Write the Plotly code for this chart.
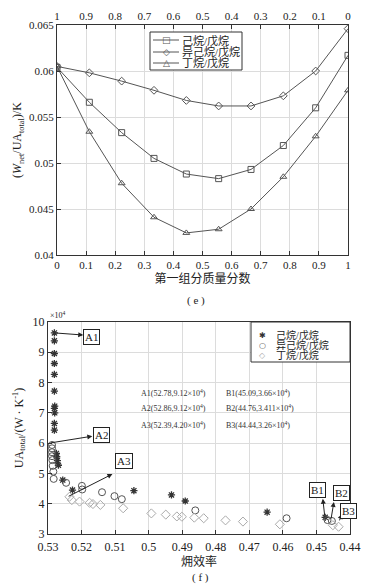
import plotly.graph_objects as go

# ---------- (e) data ----------
frac = [0, 1/9, 2/9, 3/9, 4/9, 5/9, 6/9, 7/9, 8/9, 1]
frac_top_ticks = [1, 0.9, 0.8, 0.7, 0.6, 0.5, 0.4, 0.3, 0.2, 0.1, 0]
hex_pent = [0.0604, 0.0566, 0.0533, 0.0505, 0.0488, 0.0483, 0.0493, 0.0519, 0.0560, 0.0617]
isohex_pent = [0.0605, 0.0598, 0.0589, 0.0579, 0.0568, 0.0562, 0.0562, 0.0573, 0.0600, 0.0646]
but_pent = [0.0605, 0.0534, 0.0478, 0.0441, 0.0424, 0.0428, 0.0450, 0.0485, 0.0529, 0.0579]

# ---------- (f) data (UA in 1e4 W/K) ----------
hex_eff = [0.5281, 0.5281, 0.5281, 0.5281, 0.5281, 0.5281, 0.5280, 0.5281, 0.5280, 0.5281, 0.5281,
           0.5275, 0.5274, 0.5272, 0.5269, 0.5256, 0.5227, 0.5044, 0.4932, 0.4891, 0.4647, 0.4474]
hex_ua = [9.64, 9.38, 8.96, 8.63, 8.27, 7.72, 7.22, 7.15, 7.00, 6.65, 6.43,
          5.66, 5.55, 5.42, 5.27, 4.78, 4.45, 4.43, 4.29, 4.09, 3.72, 3.55]
isohex_eff = [0.5288, 0.5288, 0.5288, 0.5288, 0.5287, 0.5286, 0.5284, 0.5283, 0.5246, 0.5199,
              0.5198, 0.5139, 0.5102, 0.5080, 0.4861, 0.4589, 0.4467, 0.4454]
isohex_ua = [5.94, 5.83, 5.70, 5.57, 5.44, 5.25, 5.06, 4.82, 4.69, 4.59,
             4.47, 4.38, 4.25, 4.15, 3.78, 3.52, 3.46, 3.43]
but_eff = [0.5236, 0.5229, 0.5206, 0.5176, 0.5166, 0.5144, 0.5076, 0.4992, 0.4949, 0.4916,
           0.4901, 0.4864, 0.4836, 0.4771, 0.4719, 0.4609, 0.4451, 0.4434]
but_ua = [4.23, 4.12, 4.07, 4.03, 3.99, 3.96, 3.85, 3.68, 3.64, 3.58,
          3.57, 3.54, 3.52, 3.45, 3.41, 3.32, 3.29, 3.24]
eff_ticks = [0.53, 0.52, 0.51, 0.50, 0.49, 0.48, 0.47, 0.46, 0.45, 0.44]
eff_tick_labels = ["0.53", "0.52", "0.51", "0.5", "0.49", "0.48", "0.47", "0.46", "0.45", "0.44"]

names = ["己烷/戊烷", "异己烷/戊烷", "丁烷/戊烷"]

# callouts: (label, head_x, head_y, tail_x, tail_y, box_x, box_y)
callouts = [
    ("A1", 0.5195, 9.57, 0.5281, 9.64, 0.5171, 9.50),
    ("A2", 0.5168, 6.23, 0.5297, 6.00, 0.5141, 6.27),
    ("A3", 0.5108, 4.98, 0.5243, 4.22, 0.5075, 5.41),
    ("B1", 0.4481, 4.16, 0.4475, 3.56, 0.4496, 4.45),
    ("B2", 0.4448, 4.06, 0.4457, 3.46, 0.4424, 4.35),
    ("B3", 0.4424, 3.66, 0.4433, 3.40, 0.4403, 3.76),
]
notes_left = ["A1(52.78,9.12×10<sup>4</sup>)", "A2(52.86,9.12×10<sup>4</sup>)", "A3(52.39,4.20×10<sup>4</sup>)"]
notes_right = ["B1(45.09,3.66×10<sup>4</sup>)", "B2(44.76,3.411×10<sup>4</sup>)", "B3(44.44,3.26×10<sup>4</sup>)"]
notes_y = [7.65, 7.16, 6.60]

SERIF = "Liberation Serif, Times New Roman, Noto Sans CJK SC, serif"
LINE = "#555555"
AX = "#333333"
GRID = "#dcdcdc"
W, H = 374, 587


def px(x):
    return x / W


def py(y):
    return 1 - y / H


fig = go.Figure()

sym = ["square-open", "diamond-open", "triangle-up-open"]
for nm, ys, s in zip(names, [hex_pent, isohex_pent, but_pent], sym):
    fig.add_trace(go.Scatter(x=frac, y=ys, mode="lines+markers", name=nm, showlegend=False,
                             line=dict(color=LINE, width=1),
                             marker=dict(symbol=s, size=6, color=LINE, line=dict(width=1, color=LINE)),
                             xaxis="x", yaxis="y"))
# dummy trace for top axis
fig.add_trace(go.Scatter(x=[1, 0], y=[None, None], mode="markers", showlegend=False,
                         xaxis="x2", yaxis="y", hoverinfo="skip"))

fig.add_trace(go.Scatter(x=hex_eff, y=hex_ua, mode="markers", name=names[0], showlegend=False,
                         marker=dict(symbol="asterisk-open", size=6, color="#333333",
                                     line=dict(width=1.3, color="#333333")),
                         xaxis="x3", yaxis="y3"))
fig.add_trace(go.Scatter(x=isohex_eff, y=isohex_ua, mode="markers", name=names[1], showlegend=False,
                         marker=dict(symbol="circle-open", size=7, color="#555555",
                                     line=dict(width=1, color="#555555")),
                         xaxis="x3", yaxis="y3"))
fig.add_trace(go.Scatter(x=but_eff, y=but_ua, mode="markers", name=names[2], showlegend=False,
                         marker=dict(symbol="diamond-open", size=7, color="#aaaaaa",
                                     line=dict(width=1, color="#aaaaaa")),
                         xaxis="x3", yaxis="y3"))

axis_common = dict(showline=True, linecolor=AX, linewidth=1, mirror=True, ticks="inside",
                   ticklen=4, tickcolor=AX, showgrid=True, gridcolor=GRID, gridwidth=1,
                   zeroline=False, automargin=False,
                   tickfont=dict(family=SERIF, size=11, color="#222"))

fig.update_layout(
    width=W, height=H, margin=dict(l=0, r=0, t=0, b=0),
    paper_bgcolor="white", plot_bgcolor="white",
    font=dict(family=SERIF, color="#222"),
    showlegend=False,
    xaxis=dict(axis_common, domain=[px(57), px(348)], anchor="y", range=[0, 1],
               tickvals=[i / 10 for i in range(11)],
               ticktext=["0", "0.1", "0.2", "0.3", "0.4", "0.5", "0.6", "0.7", "0.8", "0.9", "1"],
               title=dict(text="第一组分质量分数", font=dict(size=12, family=SERIF), standoff=4)),
    xaxis2=dict(axis_common, overlaying="x", side="top", anchor="y", range=[1, 0],
                tickvals=frac_top_ticks,
                ticktext=["1", "0.9", "0.8", "0.7", "0.6", "0.5", "0.4", "0.3", "0.2", "0.1", "0"],
                showgrid=False),
    yaxis=dict(axis_common, domain=[py(255), py(25)], anchor="x", range=[0.04, 0.065],
               tickvals=[0.04, 0.045, 0.05, 0.055, 0.06, 0.065],
               ticktext=["0.04", "0.045", "0.05", "0.055", "0.06", "0.065"],
               title=dict(text="(<i>W</i><sub>net</sub>/UA<sub>total</sub>)/K",
                          font=dict(size=12, family=SERIF), standoff=4)),
    xaxis3=dict(axis_common, domain=[px(48), px(350)], anchor="y3", range=[0.53, 0.44],
                tickvals=eff_ticks, ticktext=eff_tick_labels, ticklabelstandoff=2,
                tickfont=dict(family=SERIF, size=12, color="#222"),
                title=dict(text="㶲效率", font=dict(size=12, family=SERIF), standoff=3)),
    yaxis3=dict(axis_common, domain=[py(534), py(322)], anchor="x3", range=[3, 10],
                tickvals=[3, 4, 5, 6, 7, 8, 9, 10],
                tickfont=dict(family=SERIF, size=12, color="#222"),
                title=dict(text="UA<sub>total</sub>/(W · K<sup>-1</sup>)",
                           font=dict(size=12, family=SERIF), standoff=6)),
)

shapes = []
ann = []

# ----- legend (e): box + entries -----
shapes.append(dict(type="rect", xref="paper", yref="paper", x0=px(150), x1=px(242),
                   y0=py(70), y1=py(32), line=dict(color="#333", width=1), fillcolor="white",
                   layer="above"))
leg_e_y = [40, 52, 63]
leg_e_glyph = ["□", "◇", "△"]
for nm, yy, g in zip(names, leg_e_y, leg_e_glyph):
    shapes.append(dict(type="line", xref="paper", yref="paper", x0=px(153), x1=px(179),
                       y0=py(yy), y1=py(yy), line=dict(color=LINE, width=1), layer="above"))
    ann.append(dict(x=px(166), y=py(yy), xref="paper", yref="paper", text=g, showarrow=False,
                    font=dict(size=9, family="DejaVu Sans", color=LINE),
                    xanchor="center", yanchor="middle"))
    ann.append(dict(x=px(180), y=py(yy), xref="paper", yref="paper", text=nm, showarrow=False,
                    font=dict(size=11, family=SERIF, color="#222"),
                    xanchor="left", yanchor="middle"))

# ----- legend (f): box + entries -----
shapes.append(dict(type="rect", xref="paper", yref="paper", x0=px(251), x1=px(350),
                   y0=py(362), y1=py(322), line=dict(color="#333", width=1), fillcolor="white",
                   layer="above"))
leg_f_y = [335, 345, 355]
leg_f_glyph = ["✱", "○", "◇"]
leg_f_col = ["#333333", "#555555", "#aaaaaa"]
for nm, yy, g, c in zip(names, leg_f_y, leg_f_glyph, leg_f_col):
    ann.append(dict(x=px(262), y=py(yy), xref="paper", yref="paper", text=g, showarrow=False,
                    font=dict(size=8, family="DejaVu Sans", color=c),
                    xanchor="center", yanchor="middle"))
    ann.append(dict(x=px(274), y=py(yy), xref="paper", yref="paper", text=nm, showarrow=False,
                    font=dict(size=10, family=SERIF, color="#222"),
                    xanchor="left", yanchor="middle"))

for lab, hx, hy, tx, ty, bx, by in callouts:
    ann.append(dict(x=hx, y=hy, xref="x3", yref="y3", ax=tx, ay=ty, axref="x3", ayref="y3",
                    text="", showarrow=True, arrowhead=2, arrowsize=1, arrowwidth=1,
                    arrowcolor="#222"))
    ann.append(dict(x=bx, y=by, xref="x3", yref="y3", text=lab, showarrow=False,
                    bordercolor="#222", borderwidth=1, borderpad=1, bgcolor="white",
                    font=dict(size=11, family=SERIF, color="#222")))
for t, yv in zip(notes_left, notes_y):
    ann.append(dict(x=0.503, y=yv, xref="x3", yref="y3", text=t, showarrow=False,
                    xanchor="left", font=dict(size=8, family=SERIF, color="#333")))
for t, yv in zip(notes_right, notes_y):
    ann.append(dict(x=0.4775, y=yv, xref="x3", yref="y3", text=t, showarrow=False,
                    xanchor="left", font=dict(size=8, family=SERIF, color="#333")))
ann.append(dict(x=px(196), y=py(300), xref="paper", yref="paper", text="( e )", showarrow=False,
                font=dict(size=11, family=SERIF), yanchor="middle"))
ann.append(dict(x=px(200), y=py(577), xref="paper", yref="paper", text="( f )", showarrow=False,
                font=dict(size=11, family=SERIF), yanchor="middle"))
ann.append(dict(x=px(48), y=py(322), xref="paper", yref="paper", text="×10<sup>4</sup>",
                showarrow=False, xanchor="left", yanchor="bottom",
                font=dict(size=8, family=SERIF)))
fig.update_layout(annotations=ann, shapes=shapes)

fig.write_html("out.html", config={"displayModeBar": False},
               post_script="document.body.style.margin='0';document.body.style.overflow='hidden';")
